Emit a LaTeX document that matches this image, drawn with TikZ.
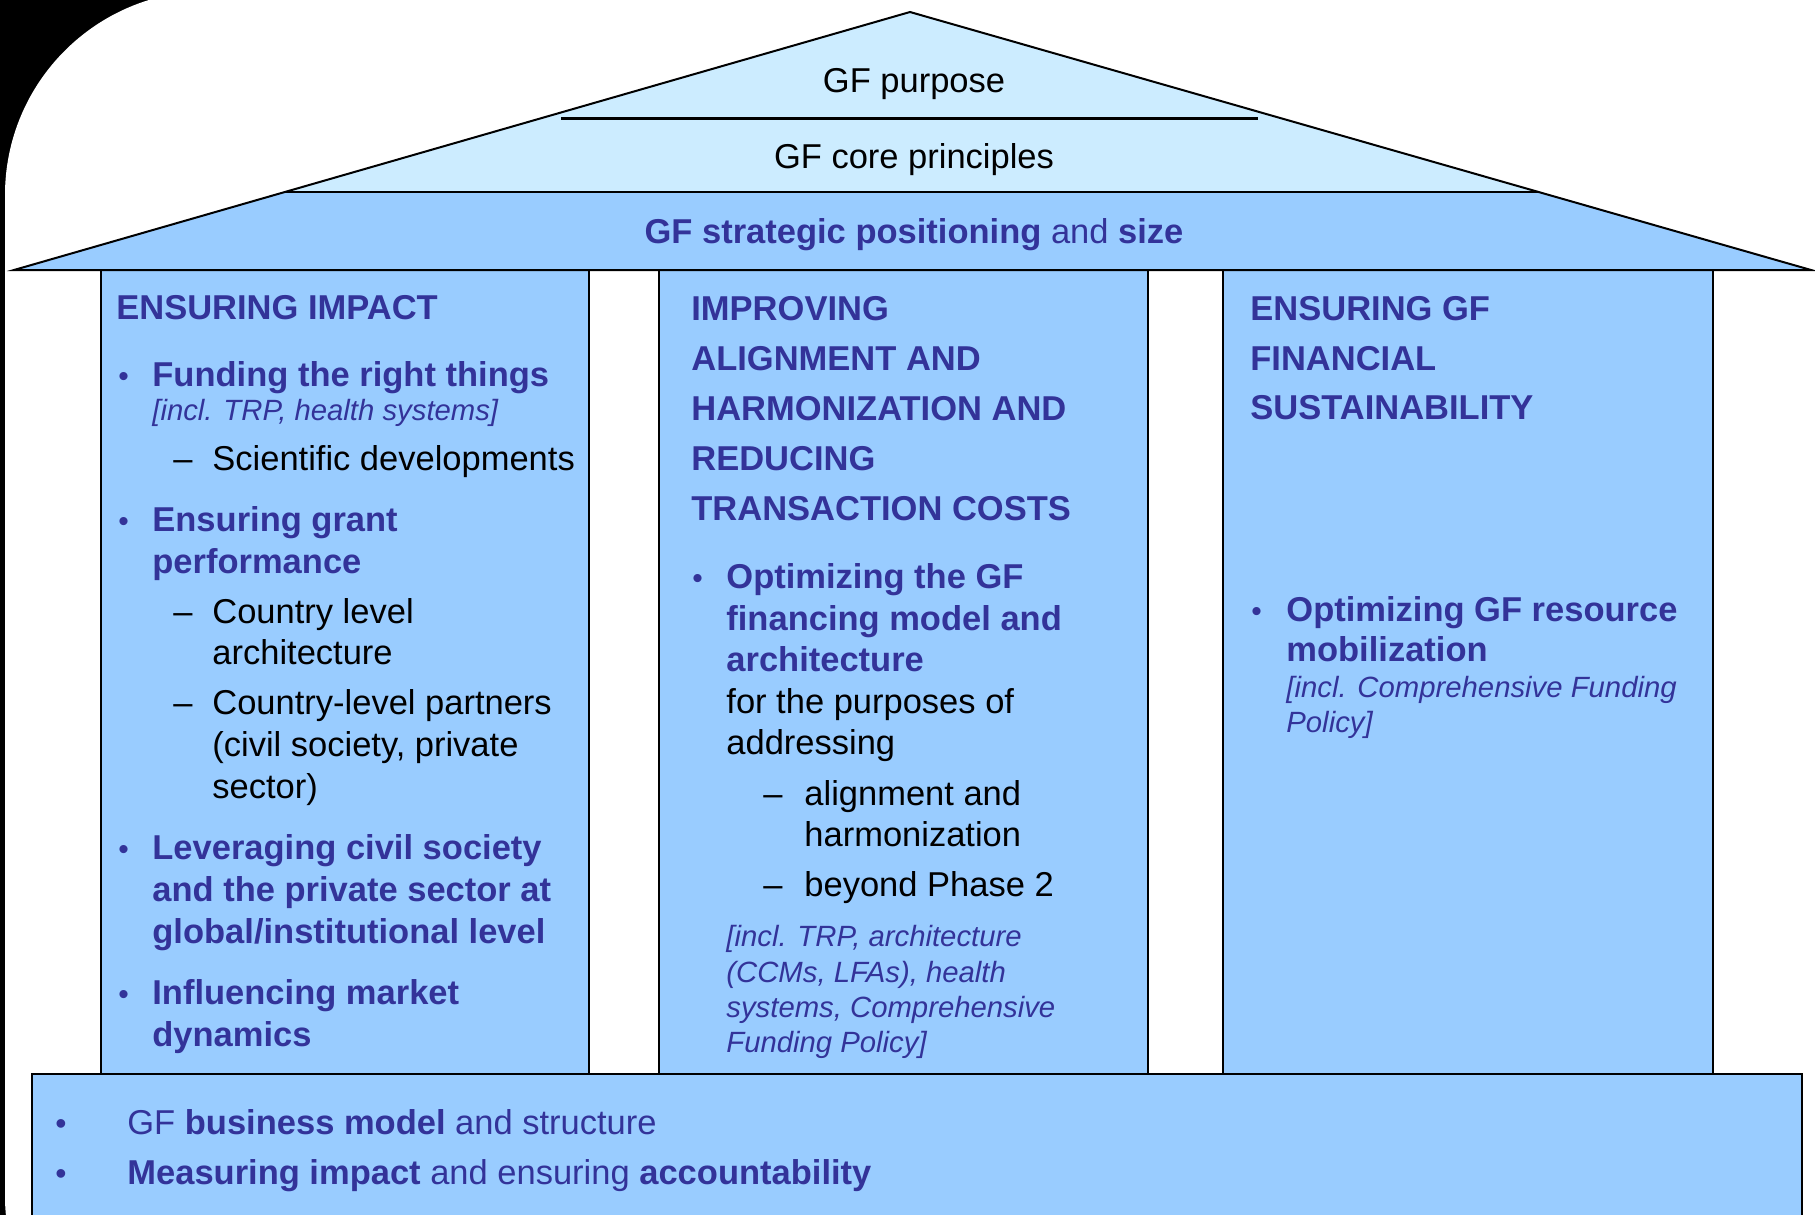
\documentclass[tikz,border=0pt]{standalone}
\usepackage{fontspec}
\setmainfont{Liberation Sans}
\definecolor{dkblue}{HTML}{99CCFF}
\definecolor{ltblue}{HTML}{CCECFF}
\definecolor{navy}{HTML}{333399}
\begin{document}
\begin{tikzpicture}[x=0.5pt,y=-0.5pt,
  txt/.style={anchor=base west, inner sep=0pt, font=\fontsize{17.25}{20}\selectfont},
  bt/.style={txt, text=navy, font=\fontsize{17.25}{20}\selectfont\bfseries},
  nt/.style={txt, text=navy},
  it/.style={anchor=base west, inner sep=0pt, text=navy, font=\fontsize{14.65}{17}\selectfont\itshape},
  bul/.style={anchor=base west, inner sep=0pt, text=navy, font=\fontsize{15}{17}\selectfont},
  bigbul/.style={anchor=base west, inner sep=0pt, text=navy, font=\fontsize{16}{18}\selectfont},
  dsh/.style={txt},
  pillar/.style={fill=dkblue, draw=black, line width=0.8pt},
  roofline/.style={draw=black, line width=1pt, line join=miter}]
\useasboundingbox (0,0) rectangle (1815,1215);
\clip (0,0) rectangle (1815,1215);
% background with rounded corner
\fill[black] (0,0) rectangle (1815,1215);
\fill[white, rounded corners=102pt] (5,1400) -- (5,-9) -- (2000,-9) -- (2000,1400) -- cycle;
% pillars
\path[pillar] (101,270) rectangle (589,1074);
\path[pillar] (659,270) rectangle (1148,1074);
\path[pillar] (1223,270) rectangle (1713,1074);
% base box
\path[pillar, line width=1pt] (32,1074) rectangle (1802,1260);
% roof
\fill[dkblue] (14,270) -- (910,12) -- (1811,270) -- cycle;
\fill[ltblue] (284.9,192) -- (910,12) -- (1538.6,192) -- cycle;
\draw[black, line width=0.8pt] (284.9,192) -- (1538.6,192);
\draw[roofline] (14,270) -- (910,12) -- (1811,270) -- cycle;
\draw[black, line width=1.5pt] (561,118) -- (1258,118);
% roof texts
\node[anchor=base, inner sep=0pt, font=\fontsize{17.25}{20}\selectfont] (purpose) at (914,92) {GF purpose};
\node[anchor=base, inner sep=0pt, font=\fontsize{17.25}{20}\selectfont] (core) at (914,168) {GF core principles};
\node[anchor=base, inner sep=0pt, text=navy, font=\fontsize{17.25}{20}\selectfont] (strat) at (914,243) {\textbf{GF strategic positioning} and \textbf{size}};
% left pillar
\node[bt] (h1) at (116,319) {ENSURING IMPACT};
\node[bul] (b11) at (118,386) {•};
\node[bt] (t11) at (152,386) {Funding the right things};
\node[it] (i11) at (152,420) {[incl. TRP, health systems]};
\node[dsh] (d11) at (173,470) {–};
\node[txt] (s11) at (212,470) {Scientific developments};
\node[bul] (b12) at (118,531) {•};
\node[bt] (t12) at (152,531) {Ensuring grant};
\node[bt] (t12b) at (152,573) {performance};
\node[dsh] (d12) at (173,623) {–};
\node[txt] (s12) at (212,623) {Country level};
\node[txt] (s12b) at (212,664) {architecture};
\node[dsh] (d13) at (173,714) {–};
\node[txt] (s13) at (212,714) {Country-level partners};
\node[txt] (s13b) at (212,756) {(civil society, private};
\node[txt] (s13c) at (212,798) {sector)};
\node[bul] (b13) at (118,859) {•};
\node[bt] (t13) at (152,859) {Leveraging civil society};
\node[bt] (t13b) at (152,901) {and the private sector at};
\node[bt] (t13c) at (152,943) {global/institutional level};
\node[bul] (b14) at (118,1004) {•};
\node[bt] (t14) at (152,1004) {Influencing market};
\node[bt] (t14b) at (152,1046) {dynamics};
% middle pillar
\node[bt] (h2a) at (691,320) {IMPROVING};
\node[bt] (h2b) at (691,370) {ALIGNMENT AND};
\node[bt] (h2c) at (691,420) {HARMONIZATION AND};
\node[bt] (h2d) at (691,470) {REDUCING};
\node[bt] (h2e) at (691,520) {TRANSACTION COSTS};
\node[bul] (b21) at (692,588) {•};
\node[bt] (t21) at (726,588) {Optimizing the GF};
\node[bt] (t21b) at (726,630) {financing model and};
\node[bt] (t21c) at (726,671) {architecture};
\node[txt] (t21d) at (726,713) {for the purposes of};
\node[txt] (t21e) at (726,754) {addressing};
\node[dsh] (d21) at (763,805) {–};
\node[txt] (s21) at (804,805) {alignment and};
\node[txt] (s21b) at (804,846) {harmonization};
\node[dsh] (d22) at (763,896) {–};
\node[txt] (s22) at (804,896) {beyond Phase 2};
\node[it] (i21) at (726,946) {[incl. TRP, architecture};
\node[it] (i21b) at (726,982) {(CCMs, LFAs), health};
\node[it] (i21c) at (726,1017) {systems, Comprehensive};
\node[it] (i21d) at (726,1052) {Funding Policy]};
% right pillar
\node[bt] (h3a) at (1250,320) {ENSURING GF};
\node[bt] (h3b) at (1250,370) {FINANCIAL};
\node[bt] (h3c) at (1250,419) {SUSTAINABILITY};
\node[bul] (b31) at (1251,621) {•};
\node[bt] (t31) at (1286,621) {Optimizing GF resource};
\node[bt] (t31b) at (1286,661) {mobilization};
\node[it] (i31) at (1286,697) {[incl. Comprehensive Funding};
\node[it] (i31b) at (1286,732) {Policy]};
% base texts
\node[bigbul] (b41) at (55,1134) {•};
\node[nt] (t41) at (127,1134) {GF \textbf{business model} and structure};
\node[bigbul] (b42) at (55,1184) {•};
\node[nt] (t42) at (127,1184) {\textbf{Measuring impact} and ensuring \textbf{accountability}};
\end{tikzpicture}
\end{document}
